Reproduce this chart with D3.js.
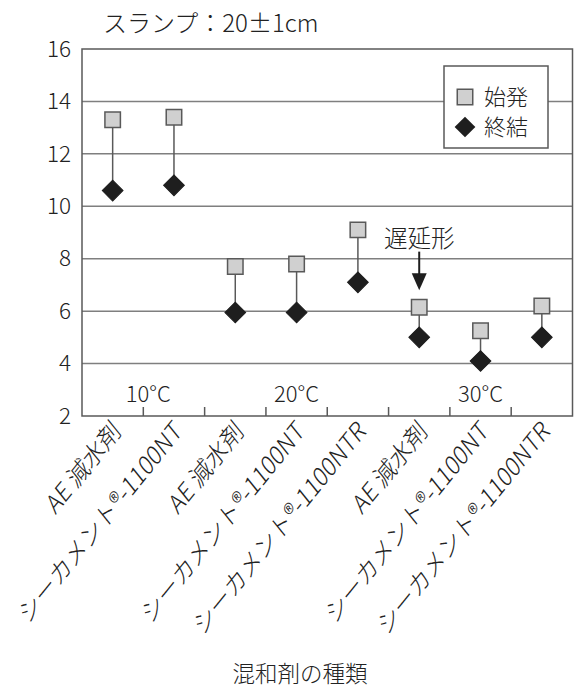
<!DOCTYPE html>
<html>
<head>
<meta charset="utf-8">
<script src="https://cdn.jsdelivr.net/npm/d3@7"></script>
<style>
  html, body { margin: 0; padding: 0; background: #fff; }
  svg text { font-family: "Noto Sans CJK JP", "Noto Sans", sans-serif; font-weight: 300; fill: #222; }
</style>
</head>
<body>
<svg id="chart" width="575" height="690"></svg>
<script>
// ---- data ----
const categories = [
  "AE 減水剤", "シーカメント®-1100NT",
  "AE 減水剤", "シーカメント®-1100NT", "シーカメント®-1100NTR",
  "AE 減水剤", "シーカメント®-1100NT", "シーカメント®-1100NTR"
];
const initialSet = [13.3, 13.4, 7.7, 7.8, 9.1, 6.15, 5.25, 6.2];   // 始発
const finalSet   = [10.6, 10.8, 5.95, 5.95, 7.1, 5.0, 4.1, 5.0];   // 終結
const groupLabels = ["10°C", "20°C", "30°C"];
const groupStart  = [0, 2, 5];
const groupEnd    = [1, 4, 7];
const yTicks = [2, 4, 6, 8, 10, 12, 14, 16];
const seriesNames = ["始発", "終結"];
const titleText = "スランプ：20±1cm";
const xTitle = "混和剤の種類";
const annotationText = "遅延形";
const annotationIndex = 5;
const annotationY = [8.45, 8.27, 6.8];   // text baseline, arrow start, arrow tip

// ---- layout ----
const svg = d3.select("#chart");
const mLeft = 82, mRight = 572.5, mTop = 49, mBottom = 416;
const x = d3.scaleBand().domain(d3.range(categories.length)).range([mLeft, mRight]).padding(0);
const y = d3.scaleLinear().domain([2, 16]).range([mBottom, mTop]);
const cx = i => x(i) + x.bandwidth() / 2;
const frameColor = "#595959";

// gridlines
svg.append("g").selectAll("line").data(yTicks.filter(t => t > 2 && t < 16)).join("line")
  .attr("x1", mLeft).attr("x2", mRight)
  .attr("y1", d => y(d)).attr("y2", d => y(d))
  .attr("stroke", "#7f7f7f").attr("stroke-width", 1.5);

// frame
svg.append("rect").attr("x", mLeft).attr("y", mTop)
  .attr("width", mRight - mLeft).attr("height", mBottom - mTop)
  .attr("fill", "none").attr("stroke", frameColor).attr("stroke-width", 1.5);

// y axis labels
const yAxis = d3.axisLeft(y).tickValues(yTicks).tickSize(0).tickPadding(11);
const yg = svg.append("g").attr("transform", `translate(${mLeft},0)`).call(yAxis);
yg.select(".domain").remove();
yg.selectAll("text").attr("font-size", 22.5).attr("fill", "#222")
  .style("font-family", '"Noto Sans CJK JP", sans-serif').style("font-weight", 300);

// inner x ticks at band boundaries
svg.append("g").selectAll("line").data(d3.range(1, categories.length)).join("line")
  .attr("x1", d => x(d)).attr("x2", d => x(d))
  .attr("y1", mBottom).attr("y2", mBottom - 9)
  .attr("stroke", frameColor).attr("stroke-width", 1.5);

// group labels
svg.append("g").selectAll("text").data(groupLabels).join("text")
  .attr("x", (d, i) => (cx(groupStart[i]) + cx(groupEnd[i])) / 2 + (i === 0 ? 5 : 0))
  .attr("y", 402)
  .attr("text-anchor", "middle").attr("font-size", 22)
  .text(d => d);

// category labels
svg.append("g").selectAll("text").data(categories).join("text")
  .attr("transform", (d, i) => `translate(${cx(i) + 4},${mBottom + 10}) scale(1,1.24) rotate(-45)`)
  .attr("text-anchor", "end").attr("dy", "0.35em").attr("font-size", 21.5)
  .text(d => d);

// stems
svg.append("g").selectAll("line").data(categories).join("line")
  .attr("x1", (d, i) => cx(i)).attr("x2", (d, i) => cx(i))
  .attr("y1", (d, i) => y(initialSet[i])).attr("y2", (d, i) => y(finalSet[i]))
  .attr("stroke", frameColor).attr("stroke-width", 1.5);

// markers
const sq = d3.symbol(d3.symbolSquare, 240);
const dia = d3.symbol(d3.symbolSquare, 215);
svg.append("g").selectAll("path").data(initialSet).join("path")
  .attr("d", sq)
  .attr("transform", (d, i) => `translate(${cx(i)},${y(d)})`)
  .attr("fill", "#d0d0d0").attr("stroke", "#595959").attr("stroke-width", 1.5);
svg.append("g").selectAll("path").data(finalSet).join("path")
  .attr("d", dia)
  .attr("transform", (d, i) => `translate(${cx(i)},${y(d)}) rotate(45)`)
  .attr("fill", "#1e1e1e").attr("stroke", "#1e1e1e").attr("stroke-width", 1);

// annotation
const ax = cx(annotationIndex);
svg.append("text").attr("x", ax).attr("y", y(annotationY[0]))
  .attr("text-anchor", "middle").attr("font-size", 23.5).text(annotationText);
const tipY = y(annotationY[2]);
svg.append("line").attr("x1", ax).attr("x2", ax)
  .attr("y1", y(annotationY[1])).attr("y2", tipY - 14)
  .attr("stroke", "#1e1e1e").attr("stroke-width", 2);
svg.append("path")
  .attr("d", `M${ax - 7.5},${tipY - 17} L${ax + 7.5},${tipY - 17} L${ax},${tipY} Z`)
  .attr("fill", "#1e1e1e");

// legend
const lg = svg.append("g");
lg.append("rect").attr("x", 444).attr("y", 66).attr("width", 104).attr("height", 82)
  .attr("fill", "#fff").attr("stroke", frameColor).attr("stroke-width", 1.5);
lg.append("path").attr("d", sq).attr("transform", "translate(465,97)")
  .attr("fill", "#d0d0d0").attr("stroke", "#595959").attr("stroke-width", 1.5);
lg.append("path").attr("d", dia).attr("transform", "translate(465,127) rotate(45)")
  .attr("fill", "#1e1e1e");
lg.selectAll("text").data(seriesNames).join("text")
  .attr("x", 484).attr("y", (d, i) => 97 + i * 30).attr("dy", "0.36em")
  .attr("font-size", 22).text(d => d);

// title and x-axis title
svg.append("text").attr("x", 103).attr("y", 32).attr("font-size", 24).text(titleText);
svg.append("text").attr("x", 300).attr("y", 682).attr("text-anchor", "middle")
  .attr("font-size", 22.5).text(xTitle);
</script>
</body>
</html>
